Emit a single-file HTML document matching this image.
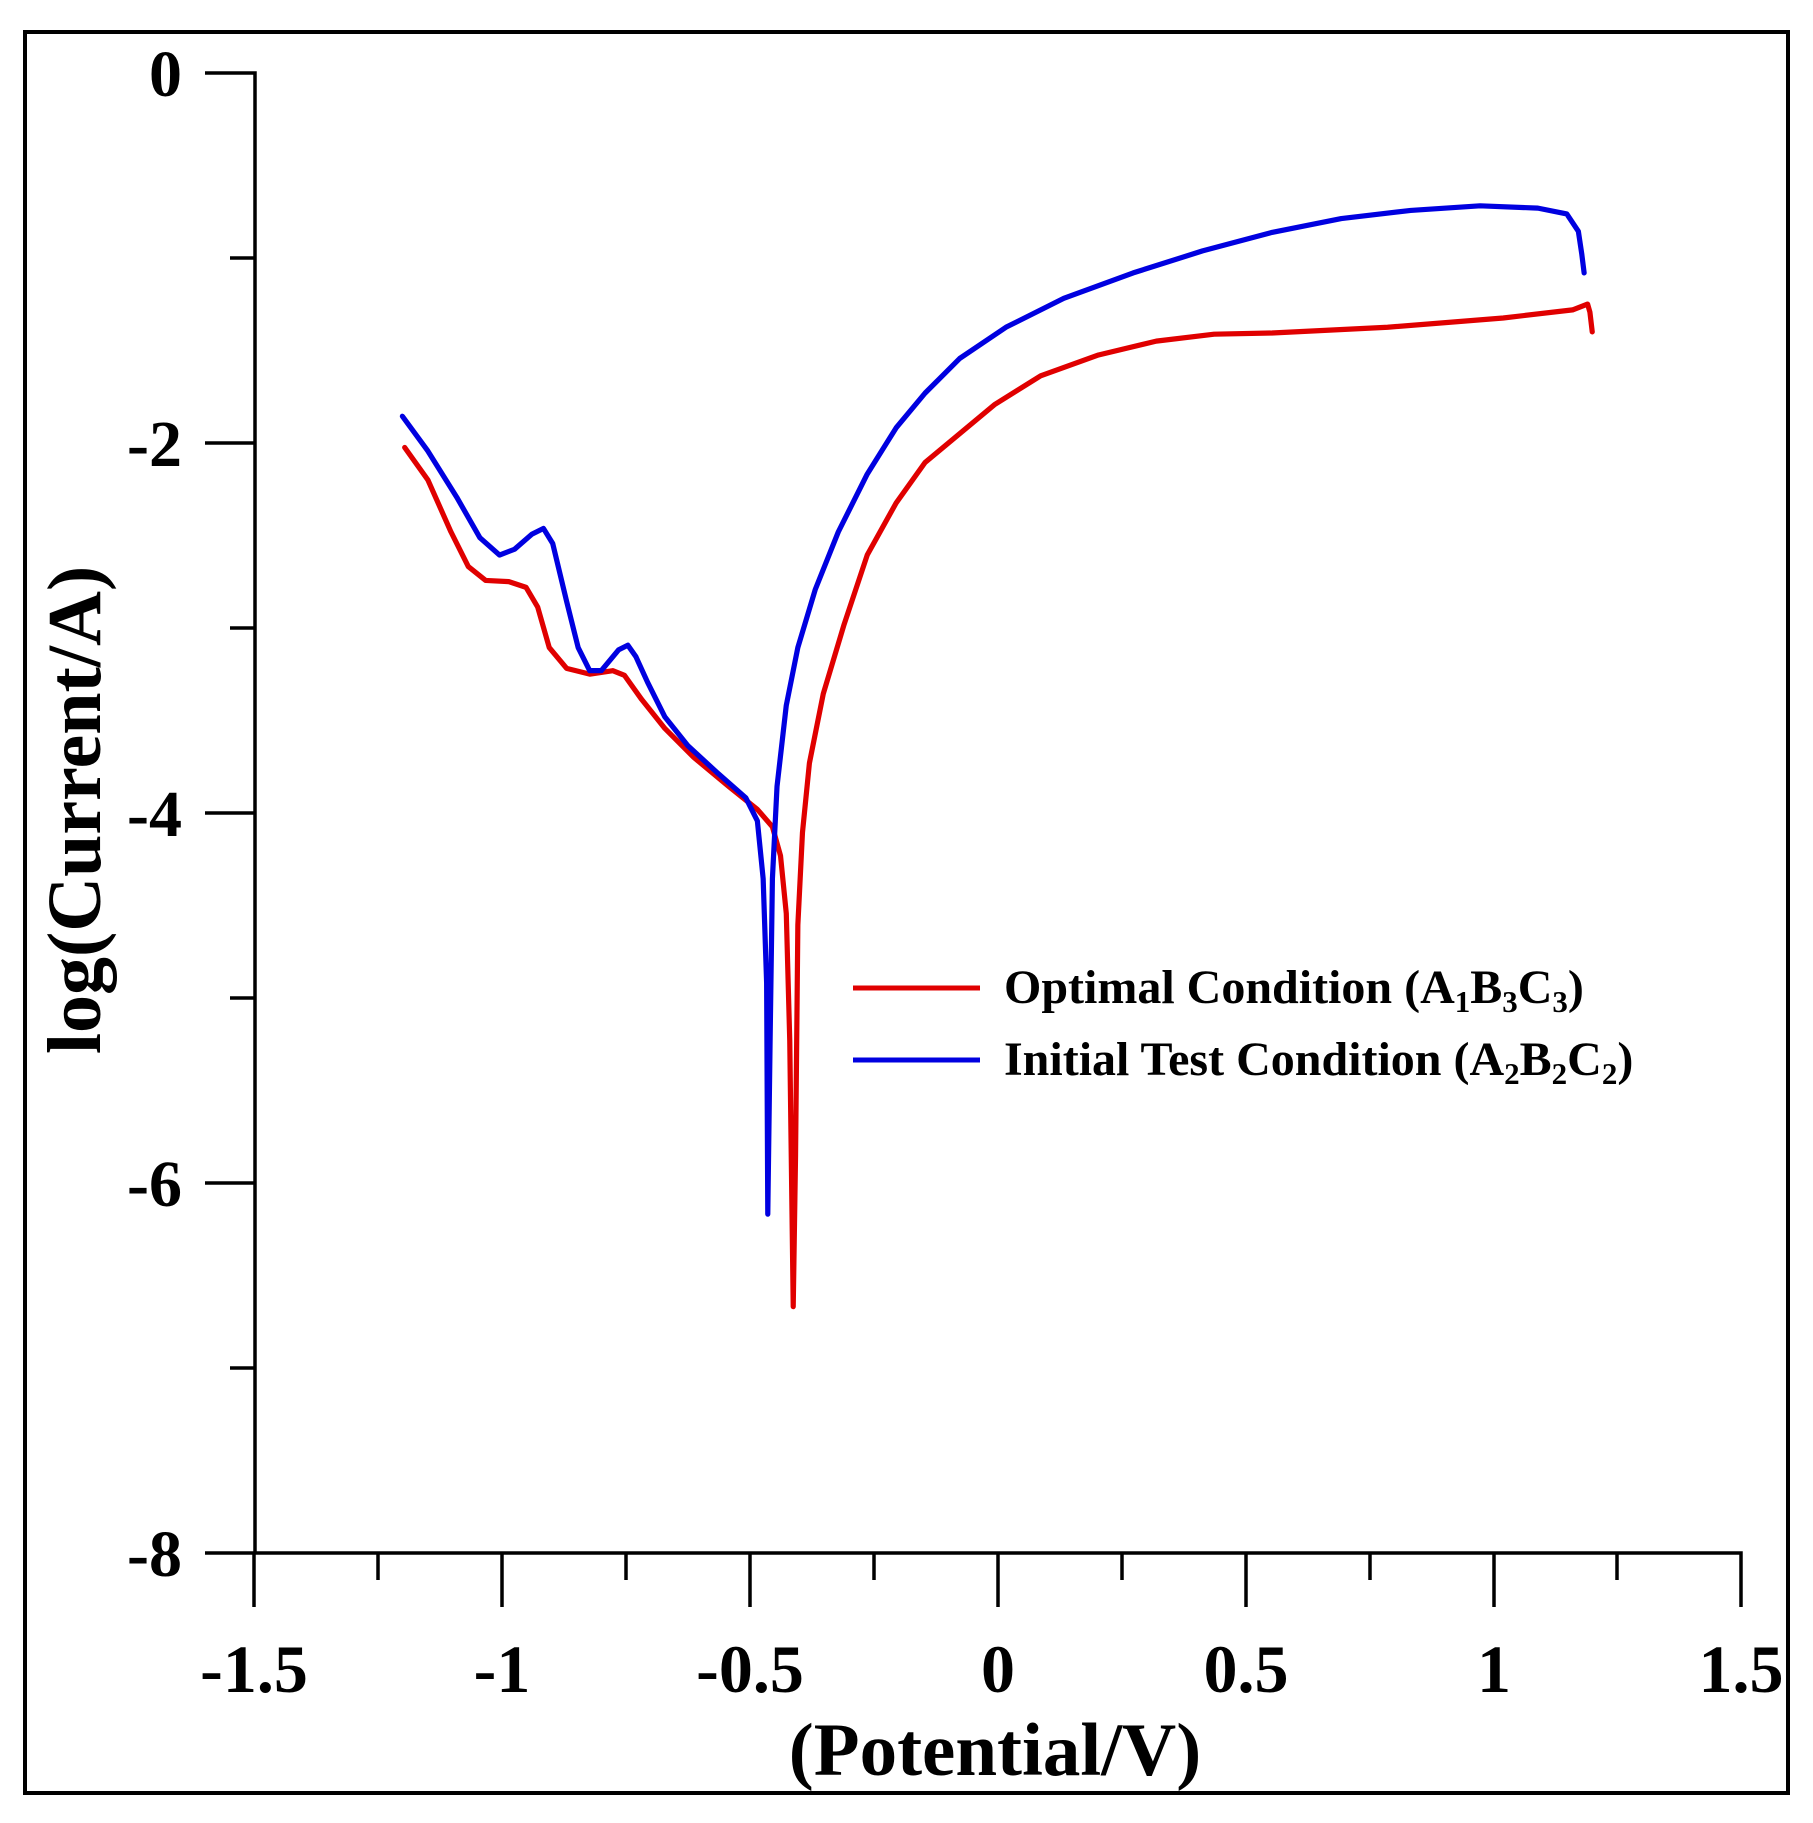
<!DOCTYPE html>
<html><head><meta charset="utf-8"><style>
html,body{margin:0;padding:0;background:#fff}
svg{display:block}
text{font-family:"Liberation Serif",serif;font-weight:bold;fill:#000}
</style></head><body>
<svg width="1813" height="1823" viewBox="0 0 1813 1823" xmlns="http://www.w3.org/2000/svg">
<rect x="0" y="0" width="1813" height="1823" fill="#fff"/>
<rect x="25" y="32" width="1763" height="1761" fill="none" stroke="#000" stroke-width="4"/>
<g stroke="#000" stroke-width="3.5" fill="none">
<path d="M205 73 H255 V1553 H1741 V1607"/>
<path d="M230 258 H255 M205 443 H255 M230 628 H255 M205 813 H255 M230 998 H255 M205 1183 H255 M230 1368 H255 M205 1553 H255"/>
<path d="M254 1553 V1607 M502 1553 V1607 M750 1553 V1607 M998 1553 V1607 M1246 1553 V1607 M1494 1553 V1607"/>
<path d="M378 1553 V1580 M626 1553 V1580 M874 1553 V1580 M1122 1553 V1580 M1370 1553 V1580 M1617 1553 V1580"/>
</g>
<g font-size="66" text-anchor="end">
<text x="182" y="96">0</text>
<text x="182" y="466">-2</text>
<text x="182" y="836">-4</text>
<text x="182" y="1206">-6</text>
<text x="182" y="1576">-8</text>
</g>
<g font-size="68" text-anchor="middle">
<text x="254" y="1692">-1.5</text>
<text x="502" y="1692">-1</text>
<text x="750" y="1692">-0.5</text>
<text x="998" y="1692">0</text>
<text x="1246" y="1692">0.5</text>
<text x="1494" y="1692">1</text>
<text x="1741" y="1692">1.5</text>
</g>
<text x="995" y="1775" font-size="75" text-anchor="middle">(Potential/V)</text>
<text transform="translate(100,810) rotate(-90)" font-size="76" text-anchor="middle">log(Current/A)</text>
<g transform="scale(1.1563)" fill="none" stroke-width="4.5" stroke-linejoin="round" stroke-linecap="round">
<polyline stroke="#e00000" points="350,387 370,415 390,460 405,490 420,502 440,503 455,508 465,525 475,560 490,578 510,583 530,580 540,584 555,605 575,630 600,655 630,680 655,700 668,715 675,740 680,790 683,900 686,1130 688,1000 690,800 694,720 700,660 712,600 730,540 750,480 775,435 800,400 830,375 860,350 900,325 950,307 1000,295 1050,289 1100,288 1200,283 1300,275 1360,268 1373,263 1375,270 1377,287"/>
<polyline stroke="#0000e0" points="348,360 370,390 395,430 415,465 432,480 445,475 460,462 470,457 478,470 490,520 500,560 510,580 520,580 535,562 543,558 550,568 560,590 575,620 595,645 620,668 645,690 655,710 660,760 663,850 664,1050 666,900 668,760 672,680 680,610 690,560 705,510 725,460 750,410 775,370 800,340 830,310 870,283 920,258 980,236 1040,217 1100,201 1160,189 1220,182 1280,178 1330,180 1355,185 1365,200 1368,220 1370,236"/>
</g>
<line x1="853" y1="988" x2="980" y2="988" stroke="#e00000" stroke-width="5"/>
<line x1="853" y1="1060" x2="980" y2="1060" stroke="#0000e0" stroke-width="5"/>
<text x="1004" y="1003" font-size="48">Optimal Condition (A<tspan font-size="31" dy="9">1</tspan><tspan dy="-9">B</tspan><tspan font-size="31" dy="9">3</tspan><tspan dy="-9">C</tspan><tspan font-size="31" dy="9">3</tspan><tspan dy="-9">)</tspan></text>
<text x="1004" y="1075" font-size="48">Initial Test Condition (A<tspan font-size="31" dy="9">2</tspan><tspan dy="-9">B</tspan><tspan font-size="31" dy="9">2</tspan><tspan dy="-9">C</tspan><tspan font-size="31" dy="9">2</tspan><tspan dy="-9">)</tspan></text>
</svg>
</body></html>
